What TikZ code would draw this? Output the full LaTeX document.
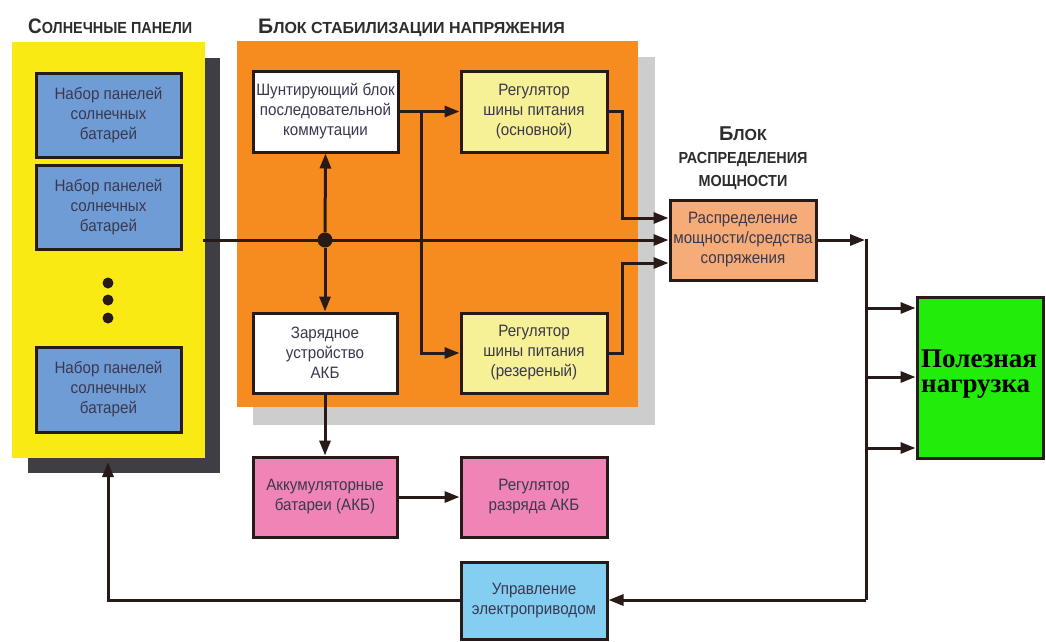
\documentclass[tikz,border=0pt]{standalone}
\usepackage{fontspec}
\setmainfont{Liberation Sans}
\newfontfamily\boxfont[FakeStretch=0.92]{Liberation Sans}
\newfontfamily\ttlfont[FakeStretch=0.9]{Liberation Sans}
\newfontfamily\loadfont{Liberation Serif}
\usetikzlibrary{arrows.meta}
\definecolor{panelyel}{RGB}{250,234,20}
\definecolor{darkshadow}{RGB}{62,62,68}
\definecolor{orangec}{RGB}{246,140,32}
\definecolor{grayshadow}{RGB}{205,205,205}
\definecolor{bluec}{RGB}{112,156,214}
\definecolor{lyelc}{RGB}{246,240,150}
\definecolor{pinkc}{RGB}{240,132,182}
\definecolor{salmonc}{RGB}{246,172,120}
\definecolor{lbluec}{RGB}{132,206,242}
\definecolor{greenc}{RGB}{34,236,10}
\definecolor{linec}{RGB}{40,26,22}
\definecolor{txtc}{RGB}{58,56,78}
\definecolor{ttlc}{RGB}{45,45,45}
\tikzset{
  box/.style={draw=linec, line width=3pt, align=center, text=txtc,
    font=\boxfont\fontsize{16.5}{20}\selectfont, minimum width=145pt,
    minimum height=81pt, inner sep=0pt},
  bluebox/.style={box, fill=bluec},
  whitebox/.style={box, fill=white},
  ylwbox/.style={box, fill=lyelc},
  pinkbox/.style={box, fill=pinkc},
  salmonbox/.style={box, fill=salmonc},
  lbluebox/.style={box, fill=lbluec},
  ttl/.style={text=ttlc, font=\bfseries, inner sep=0pt},
  arr/.style={line width=3pt, draw=linec, -{Triangle[length=15pt,width=11pt]}},
  ln/.style={line width=3pt, draw=linec},
  dotnode/.style={circle, fill=linec, inner sep=0pt, minimum size=#1},
}
\begin{document}
\begin{tikzpicture}[x=1pt,y=-1pt]
\useasboundingbox (0,0) rectangle (1046,641);
\fill[white] (0,0) rectangle (1046,641);

% background panels
\fill[darkshadow] (28,58) rectangle (220,473);
\fill[panelyel] (12,42) rectangle (205,458);
\fill[grayshadow] (253,57) rectangle (655,425);
\fill[orangec] (237,41) rectangle (638,407);

% titles
\node[ttl, anchor=base west] (t1) at (28,33)
  {\ttlfont\fontsize{21}{21}\selectfont С\fontsize{16}{16}\selectfont ОЛНЕЧНЫЕ ПАНЕЛИ};
\node[ttl, anchor=base west] (t2) at (258,33)
  {\fontsize{21}{21}\selectfont Б\fontsize{16}{16}\selectfont ЛОК СТАБИЛИЗАЦИИ НАПРЯЖЕНИЯ};
\node[ttl, anchor=base] (t3a) at (743,140)
  {\fontsize{20}{20}\selectfont Б\fontsize{16}{16}\selectfont ЛОК};
\node[ttl, anchor=base] (t3b) at (743,163)
  {\ttlfont\fontsize{16}{16}\selectfont РАСПРЕДЕЛЕНИЯ};
\node[ttl, anchor=base] (t3c) at (743,186)
  {\ttlfont\fontsize{16}{16}\selectfont МОЩНОСТИ};

% solar panel sets
\node[bluebox, minimum height=84pt] (p1) at (108.5,115) {Набор панелей\\солнечных\\батарей};
\node[bluebox, minimum height=84pt] (p2) at (108.5,207) {Набор панелей\\солнечных\\батарей};
\node[bluebox, minimum height=85pt] (p3) at (108.5,389.5) {Набор панелей\\солнечных\\батарей};
\node[dotnode=11pt] (d1) at (108,283) {};
\node[dotnode=11pt] (d2) at (108,300) {};
\node[dotnode=11pt] (d3) at (108,318) {};

% stabilisation block
\node[whitebox] (shunt) at (325.5,111.5) {Шунтирующий блок\\последовательной\\коммутации};
\node[ylwbox, minimum width=146pt] (regmain) at (534,111.5) {Регулятор\\шины питания\\(основной)};
\node[whitebox, minimum width=144pt, minimum height=80pt] (charger) at (325,353) {Зарядное\\устройство\\АКБ};
\node[ylwbox, minimum width=146pt, minimum height=80pt] (regres) at (534,353) {Регулятор\\шины питания\\(резереный)};

% distribution
\node[salmonbox, minimum width=146pt, minimum height=80pt] (dist) at (743,240) {Распределение\\мощности/средства\\сопряжения};

% batteries
\node[pinkbox, minimum width=144pt, minimum height=80pt] (akb) at (325,497) {Аккумуляторные\\батареи (АКБ)};
\node[pinkbox, minimum width=146pt, minimum height=80pt] (regakb) at (534,497) {Регулятор\\разряда АКБ};
\node[lbluebox, minimum width=146pt, minimum height=77pt] (ctrl) at (534,601) {Управление\\электроприводом};

% load
\node[draw=linec, line width=3pt, fill=greenc, minimum width=126pt, minimum height=161pt, inner sep=0pt] (load) at (980,377.5) {};
\node[anchor=north west, inner sep=0pt, align=left, text=black,
  font=\loadfont\bfseries\fontsize{27}{25}\selectfont] (loadlbl) at (921,350) {Полезная\\нагрузка};

% connectors
\coordinate (bus0) at (203,240);
\node[dotnode=15pt] (j) at (325,240) {};
\draw[arr] (bus0) -- (dist.west);
\draw[arr] (j) -- (shunt.south);
\draw[arr] (j) -- (charger.north);
\draw[arr] (shunt.east) -- (regmain.west);
\coordinate (br) at (421,111.5);
\draw[arr] (br) |- (regres.west);
\coordinate (m1) at (622,111.5);
\draw[arr] (regmain.east) -- (m1) |- ([yshift=22pt]dist.west);
\coordinate (m2) at (622,353);
\draw[arr] (regres.east) -- (m2) |- ([yshift=-23pt]dist.west);
\coordinate (out) at (865,240);
\draw[arr] (dist.east) -- (out);
\coordinate (vtop) at (866,238.5);
\coordinate (vbot) at (866,600);
\draw[ln] (vtop) -- (vbot);
\coordinate (v1) at (866,308);
\coordinate (v2) at (866,377);
\coordinate (v3) at (866,448);
\draw[arr] (v1) -- (v1 -| load.west);
\draw[arr] (v2) -- (v2 -| load.west);
\draw[arr] (v3) -- (v3 -| load.west);
\draw[arr] (vbot) -- (vbot -| ctrl.east);
\coordinate (fb) at (108,600);
\coordinate (pbot) at (108,462);
\draw[arr] (ctrl.west |- fb) -- (fb) -- (pbot);
\draw[arr] (charger.south) -- (akb.north);
\draw[arr] (akb.east) -- (regakb.west);
\end{tikzpicture}
\end{document}
